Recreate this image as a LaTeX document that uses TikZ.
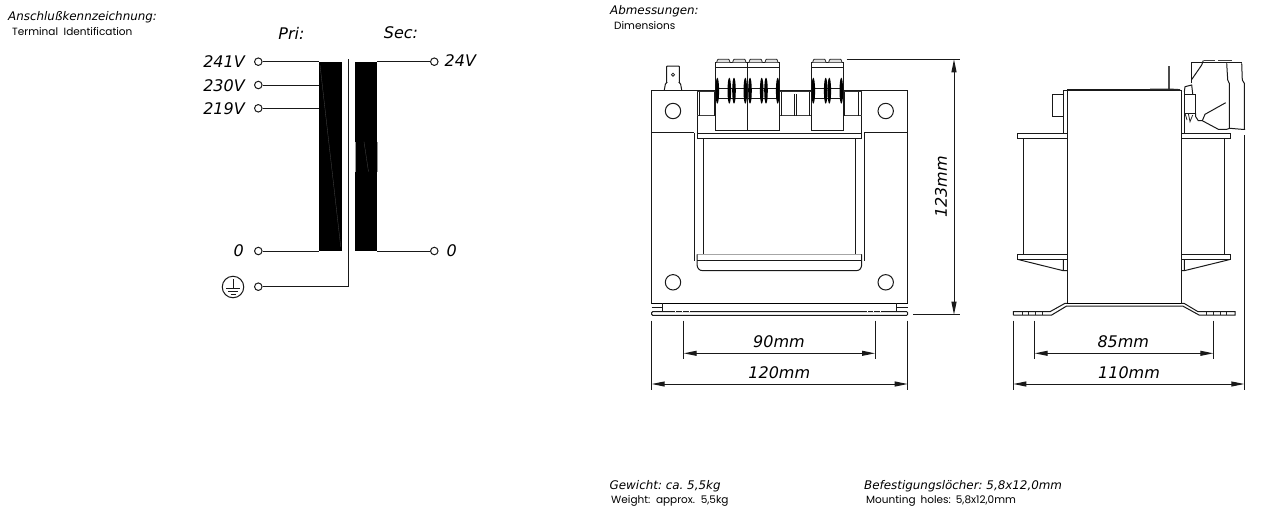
\documentclass[tikz,border=0pt]{standalone}
\usepackage{fontspec}
\setmainfont{DejaVu Sans}
\newfontfamily\gothic{Poppins}
\usetikzlibrary{arrows.meta,shapes.geometric}
\tikzset{
  ln/.style={line width=1pt,black!90},
  thin ln/.style={line width=0.8pt,black!85},
  term/.style={circle,draw,line width=1pt,black!90,fill=white,minimum size=7.5pt,inner sep=0pt},
  big/.style={font=\fontsize{16}{18}\selectfont\itshape,inner sep=0pt,text=black},
  head/.style={font=\fontsize{11.9}{14}\selectfont\itshape,inner sep=0pt,anchor=west,text=black},
  sub/.style={font=\gothic\fontsize{10.5}{12}\selectfont,inner sep=0pt,anchor=west,text=black},
  dim/.style={ln,{Stealth[length=13pt,width=5pt,inset=0pt]}-{Stealth[length=13pt,width=5pt,inset=0pt]}},
  disc/.style={ellipse,fill=black,inner sep=0pt},
}
\begin{document}
\begin{tikzpicture}[x=1pt,y=-1pt]
\useasboundingbox (0,0) rectangle (1270,515);
% --- headings
\node[head] (h1) at (8,17) {Anschlußkennzeichnung:};
\node[sub] (s1) at (12,32) {Terminal\ \ Identification};
\node[head] (h2) at (610,11) {Abmessungen:};
\node[sub] (s2) at (614,26) {Dimensions};
\node[head] (h3) at (609.5,486) {Gewicht:\ ca.\ 5,5kg};
\node[sub] (s3) at (611,501) {Weight:\ \ approx.\ \ 5,5kg};
\node[head] (h4) at (864,486) {Befestigungslöcher:\ 5,8x12,0mm};
\node[sub] (s4) at (866,501) {Mounting\hspace{5pt}holes:\hspace{5pt}5,8x12,0mm};
% --- schematic
\node[big] (pri) at (291.5,33) {Pri:};
\node[big] (sec) at (401,33) {Sec:};
\fill[black] (319,61.7) rectangle (341.7,251);
\fill[black] (355,61.7) rectangle (377.3,251);
\coordinate (pritop) at (319,61.7);
\coordinate (pribot) at (319,251);
\coordinate (sectop) at (377.3,61.7);
\coordinate (secbot) at (377.3,251);
\draw[white!30!black,line width=0.3pt] (320,65) -- (340.7,246.7);
\draw[white!30!black,line width=0.3pt] (364,141.7) -- (368.5,171.7);
\fill[white!60!black] (355,141.7) rectangle (355.6,171.7);
\fill[white!60!black] (376.7,141.7) rectangle (377.3,171.7);
\node[term] (t241) at (258.3,61.7) {};
\node[term] (t230) at (258.3,85) {};
\node[term] (t219) at (258.3,108.3) {};
\node[term] (t0) at (258.3,251) {};
\node[term] (tpe) at (258.3,286.7) {};
\node[term] (t24) at (434.3,61.7) {};
\node[term] (ts0) at (434.3,251) {};
\coordinate (shieldtop) at (348,59.3);
\coordinate (shieldbot) at (348,286.7);
\draw[ln] (t241) -- (t241 -| pritop);
\draw[ln] (t230) -- (t230 -| pritop);
\draw[ln] (t219) -- (t219 -| pritop);
\draw[ln] (t0) -- (t0 -| pritop);
\draw[ln] (t24) -- (t24 -| sectop);
\draw[ln] (ts0) -- (ts0 -| sectop);
\draw[ln] (tpe) -- (shieldbot) -- (shieldtop);
\node[big,anchor=east] (l241) at (245,62) {241V};
\node[big,anchor=east] (l230) at (245,85.5) {230V};
\node[big,anchor=east] (l219) at (245,109) {219V};
\node[big] (l0) at (238.7,250.5) {0};
\node[big,anchor=west] (l24) at (444.5,61) {24V};
\node[big] (ls0) at (451.7,250.5) {0};
% ground symbol
\node[circle,draw,ln,minimum size=21.5pt,inner sep=0pt] (gnd) at (233,287) {};
\draw[ln] (233,279) -- (233,288.5);
\draw[ln] (226,288.7) -- (240,288.7);
\draw[ln] (228,291.5) -- (238,291.5);
\draw[ln] (230.5,294.3) -- (235.5,294.3);
% --- front view
\draw[ln] (651.7,90) rectangle (907.7,303.3);
\draw[ln] (651.7,132.7) -- (694.3,132.7);
\draw[ln] (864.3,132.7) -- (907.7,132.7);
\draw[ln] (694.3,132.7) -- (694.3,260.7);
\draw[ln] (703.3,138.3) -- (703.3,254.3);
\draw[ln] (855,138.3) -- (855,254.3);
\draw[ln] (864.3,132.7) -- (864.3,260.7);
\draw[ln] (697.3,92) -- (697.3,138.3) -- (861.7,138.3) -- (861.7,92);
\draw[ln] (697.3,133) -- (861.7,133);
\draw[line width=1.3pt,black!80] (697.3,91.2) -- (716,91.2) (780,91.2) -- (811,91.2) (843,91.2) -- (861.7,91.2);
\draw[line width=1.3pt,black!75] (697.3,115.7) -- (716,115.7) (780,115.7) -- (811,115.7) (843,115.7) -- (861.7,115.7);
\draw[ln] (699.3,92) -- (699.3,115.7) (714.3,92) -- (714.3,115.7)
  (794.3,94) -- (794.3,115.7) (796.3,94) -- (796.3,115.7)
  (858.3,92) -- (858.3,115.7) (844.5,92) -- (844.5,115.7) (781,92) -- (781,115.7) (809.7,92) -- (809.7,115.7);
% bottom flange
\draw[line width=1.2pt,black] (697,254.3) -- (861.7,254.3);
\draw[ln,fill=white] (697,254.3) -- (697,264) .. controls (697,268) and (699,270.7) .. (703,270.7) -- (856,270.7) .. controls (860,270.7) and (861.7,268) .. (861.7,264) -- (861.7,254.3);
\draw[ln] (697,260) -- (861.7,260);
% holes
\foreach \n/\hx/\hy in {a/673/111,b/885.7/111,c/673/282.3,d/885.7/282.3}
  \draw[ln] (\hx,\hy) circle[radius=7.7];
% foot
\draw[line width=1.2pt,black] (651.7,303.3) -- (907.7,303.3);
\draw[ln] (651.7,307.3) -- (662.7,307.3) (662.7,303.3) -- (662.7,311) (896.7,303.3) -- (896.7,311) (896.7,307.3) -- (907.7,307.3);
\draw[line width=1pt,black!90,rounded corners=1pt] (651.7,311.7) rectangle (907.7,315.3);
\foreach \tx in {677.3,683.7,690.7,868.7,875,882} \draw[white,line width=1pt] (\tx-2,311.7) -- (\tx-1,311.7);
% terminals front
\foreach \bl/\br in {715.7/779.7,811/843.3}{
  \fill[white] (\bl,62.3) rectangle (\br,130);
  \draw[ln] (\bl,62.3) rectangle (\br,130);
  \draw[ln] (\bl,67) -- (\br,67);
  \draw[ln] (\bl,88.3) -- (\br,88.3) (\bl,98.3) -- (\br,98.3);
}
\draw[ln] (747.7,62.3) -- (747.7,130);
\foreach \tl/\tr in {716.7/730,732.7/746,749/762.3,765/778,812.7/826,828.7/842}
  \draw[thin ln,fill=black!12,rounded corners=0.5pt] (\tl,62.3) -- (\tl+1,59.3) -- (\tr-1,59.3) -- (\tr,62.3);
\foreach \dx in {717.3,729.3,734,745.3,750,761.7,766,777.7,813.3,825.7,829.3,841.3}
  \node[disc,minimum width=3.6pt,minimum height=26pt] at (\dx,90.7) {};
% tab
\draw[ln,rounded corners=0.7pt] (664.3,90) -- (665.5,83.5) -- (666.7,83) -- (666.7,66) -- (679.3,66) -- (679.3,83) -- (680.5,83.5) -- (681.7,90);
\draw[thin ln] (673,74.7) circle[radius=1.6];
% --- side view
\draw[ln] (1067.3,303.3) -- (1067.3,90) -- (1181,90) -- (1181,303.3);
\draw[line width=1.2pt,black!90] (1067.3,90) -- (1150,90);
\draw[ln] (1063.3,133.3) -- (1063.3,90.7) -- (1067.3,90.7);
\draw[ln] (1184.3,133.3) -- (1184.3,90);
\draw[ln] (1052.7,94.3) rectangle (1063.3,116);
% flanges
\draw[ln] (1067.3,133.3) -- (1017.3,133.3) -- (1017.3,138.3) -- (1067.3,138.3);
\draw[ln] (1181,133.3) -- (1230.7,133.3) -- (1230.7,138.3) -- (1181,138.3);
\draw[ln] (1023.3,138.3) -- (1023.3,254.3) (1224.3,138.3) -- (1224.3,254.3);
\draw[ln] (1067.3,254.3) -- (1017.3,254.3) -- (1017.3,259.3) -- (1067.3,259.3);
\draw[ln] (1181,254.3) -- (1230.7,254.3) -- (1230.7,259.3) -- (1181,259.3);
\draw[ln] (1017.3,259.3) -- (1063.3,270.7) -- (1067.3,270.7) (1063.3,259.3) -- (1063.3,270.7);
\draw[ln] (1230.7,259.3) -- (1184.3,270.7) -- (1181,270.7) (1184.3,259.3) -- (1184.3,270.7);
% foot profile
\draw[ln] (1013.3,315) -- (1013.3,311.7) -- (1050,311.7) -- (1065,303.3) -- (1067.3,303.3);
\draw[line width=1.2pt,black] (1067.3,303.3) -- (1181,303.3);
\draw[ln] (1181,303.3) -- (1184,303.3) -- (1198,311.7) -- (1235,311.7) -- (1235,315) -- (1199,315) -- (1182.7,306) -- (1066.7,306) -- (1051.7,315) -- (1013.3,315);
\foreach \tx in {1022.3,1028.5,1035,1042,1206.7,1213.3,1220,1226.7} \draw[thin ln] (\tx,311.7) -- (\tx,315);
% side tab and terminal
\draw[line width=2pt,black!70] (1169.3,66) -- (1169.3,89);
\draw[line width=1.4pt,black!85] (1150,89.2) -- (1169.3,89.2) -- (1180,89.8);
\draw[ln] (1191.7,83.3) -- (1191.7,62.7) -- (1241.7,62.7);
\draw[ln] (1191.7,79.5) -- (1201.7,65) -- (1203.3,60.5);
\draw[line width=1.6pt,black!75] (1203.5,60.5) -- (1215,60.5) (1218.3,60.5) -- (1231.7,60.5);
\draw[ln] (1184.3,94) rectangle (1195.7,113.3);
\draw[ln] (1184.3,92) -- (1185,86.7) -- (1191.7,85) -- (1192.7,94);
\draw[thin ln] (1188.3,113.3) -- (1190,121.7) -- (1192.7,115);
\draw[thin ln] (1185,113.3) -- (1187,120);
\draw[ln] (1195.7,113.3) -- (1195.7,116.7) -- (1198.3,120.7) -- (1202.3,120.7) -- (1218.3,129.3) -- (1226.7,129.3) -- (1230,128.3) -- (1241.7,129.3) -- (1245,129.3);
\draw[ln] (1202.3,120.7) -- (1205,114.3) -- (1225.7,102.7);
\draw[ln] (1226.7,63.3) -- (1227.7,80) -- (1229.3,83.3) -- (1229.3,128.3);
\draw[ln] (1241.7,63.3) -- (1242.3,80) -- (1244.3,83.3) -- (1244.3,129.3);
% --- dimensions
\coordinate (f90a) at (683.7,320.7); \coordinate (f90b) at (875,320.7);
\coordinate (f120a) at (651.7,320.7); \coordinate (f120b) at (907.7,320.7);
\draw[ln] (f90a) -- +(0,38.6) (f90b) -- +(0,38.6) (f120a) -- +(0,69.3) (f120b) -- +(0,69.3);
\coordinate (d90a) at (683.7,353.3); \coordinate (d90b) at (875,353.3);
\coordinate (d120a) at (651.7,384); \coordinate (d120b) at (907.7,384);
\draw[dim] (d90a) -- (d90b);
\draw[dim] (d120a) -- (d120b);
\node[big] (t90) at (779,341.7) {90mm};
\node[big] (t120) at (779.3,372.3) {120mm};
\coordinate (v1a) at (846.7,59.3); \coordinate (v1b) at (960,59.3);
\coordinate (v2a) at (913,314.7); \coordinate (v2b) at (960,314.7);
\draw[ln] (v1a) -- (v1b) (v2a) -- (v2b);
\coordinate (d123a) at (954,59.3); \coordinate (d123b) at (954,314.7);
\draw[dim] (d123a) -- (d123b);
\node[big,rotate=90] (t123) at (941,187) {123mm};
\coordinate (s85a) at (1034.7,320.7); \coordinate (s85b) at (1213.3,320.7);
\coordinate (s110a) at (1013.3,320.7); \coordinate (s110b) at (1244.3,135);
\draw[ln] (s85a) -- +(0,38.6) (s85b) -- +(0,38.6) (s110a) -- +(0,69.3) (s110b) -- +(0,255);
\coordinate (d85a) at (1034.7,353.3); \coordinate (d85b) at (1213.3,353.3);
\coordinate (d110a) at (1013.3,384); \coordinate (d110b) at (1244.3,384);
\draw[dim] (d85a) -- (d85b);
\draw[dim] (d110a) -- (d110b);
\node[big] (t85) at (1123.3,341.7) {85mm};
\node[big] (t110) at (1129,372.3) {110mm};
\end{tikzpicture}
\end{document}
